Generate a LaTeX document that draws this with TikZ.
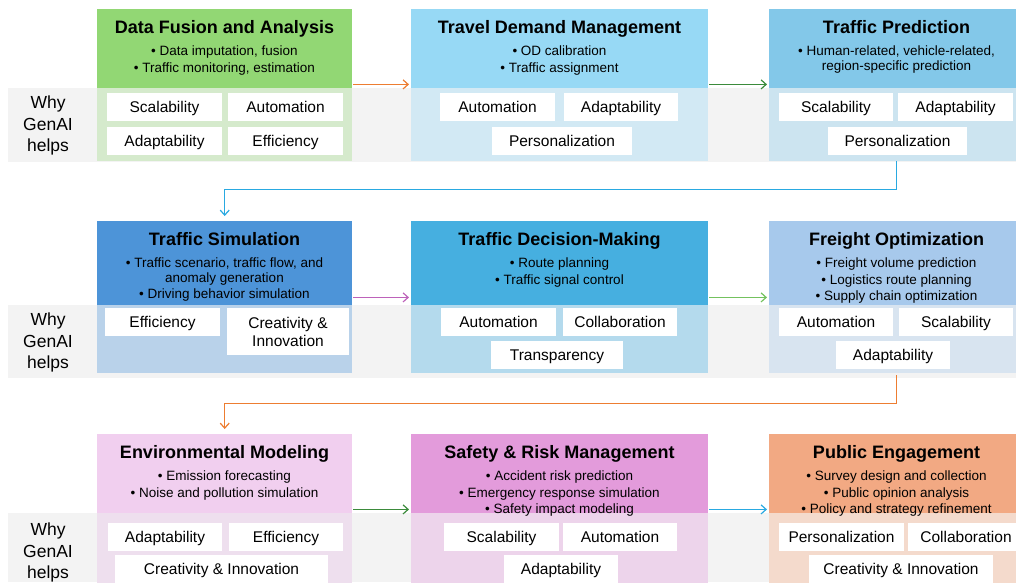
\documentclass[tikz,border=0pt]{standalone}
\usepackage{fontspec}
\setmainfont{Liberation Sans}
\usetikzlibrary{arrows.meta}

\definecolor{bandgray}{HTML}{F3F3F3}
\definecolor{hdfusion}{HTML}{92D774}
\definecolor{lofusion}{HTML}{D5EACC}
\definecolor{hddemand}{HTML}{97D9F5}
\definecolor{lodemand}{HTML}{D2E9F4}
\definecolor{hdpredict}{HTML}{83C8E9}
\definecolor{lopredict}{HTML}{CCE4F0}
\definecolor{hdsimul}{HTML}{4D94D8}
\definecolor{losimul}{HTML}{B9D2EA}
\definecolor{hddecision}{HTML}{46AFE0}
\definecolor{lodecision}{HTML}{B4DAED}
\definecolor{hdfreight}{HTML}{A7C9EC}
\definecolor{lofreight}{HTML}{D8E4F0}
\definecolor{hdenviron}{HTML}{F1CFEF}
\definecolor{loenviron}{HTML}{EEDFEE}
\definecolor{hdsafety}{HTML}{E39BDB}
\definecolor{losafety}{HTML}{EDD4EB}
\definecolor{hdpublic}{HTML}{F2A983}
\definecolor{lopublic}{HTML}{F4DACC}
\definecolor{arrorange}{HTML}{ED7D31}
\definecolor{arrgreen}{HTML}{3B8B3B}
\definecolor{arrlime}{HTML}{74C25E}
\definecolor{arrblue}{HTML}{29A9E1}
\definecolor{arrpink}{HTML}{BD62BA}

\begin{document}
\begin{tikzpicture}[x=1pt,y=-1pt,
  head/.style={anchor=north west,inner sep=0,minimum height=79},
  lower/.style={anchor=north west,inner sep=0},
  title/.style={anchor=base,font=\fontsize{18}{21}\selectfont\bfseries},
  items/.style={anchor=north,inner sep=0,align=center,font=\fontsize{13.5}{16.5}\selectfont},
  why/.style={anchor=north,inner sep=0,align=center,font=\fontsize{17.5}{21.5}\selectfont},
  card/.style={fill=white,inner sep=0,minimum height=28,align=center,font=\fontsize{15.5}{18}\selectfont},
  feat/.style={card,text height=12.5pt,text depth=1.5pt},
  link/.style={line width=1.2pt,-{Straight Barb[length=5pt,width=9pt]},shorten <=1pt,shorten >=2pt}]
\useasboundingbox (0,0) rectangle (1016,582);

\fill[bandgray] (8,88) rectangle (1016,162);
\fill[bandgray] (8,305) rectangle (1016,378);
\fill[bandgray] (8,513) rectangle (1016,582);

\node[why] (why1) at (48,96) {Why\\GenAI\\helps};
\node[why] (why2) at (48,313) {Why\\GenAI\\helps};
\node[why] (why3) at (48,523) {Why\\GenAI\\helps};

% row 1
\node[head,fill=hdfusion,minimum width=255] (fusion) at (97,9) {};
\node[lower,fill=lofusion,minimum width=255,minimum height=73] (fusionlo) at (97,88) {};
\node[head,fill=hddemand,minimum width=297] (demand) at (411,9) {};
\node[lower,fill=lodemand,minimum width=297,minimum height=73] (demandlo) at (411,88) {};
\node[head,fill=hdpredict,minimum width=255] (predict) at (769,9) {};
\node[lower,fill=lopredict,minimum width=255,minimum height=73] (predictlo) at (769,88) {};

\node[title] (fusiont) at (224.5,33.5) {Data Fusion and Analysis};
\node[items] (fusioni) at (224.5,46) {• Data imputation, fusion\\• Traffic monitoring, estimation};
\node[title] (demandt) at (559.5,33.5) {Travel Demand Management};
\node[items] (demandi) at (559.5,46) {• OD calibration\\• Traffic assignment};
\node[title] (predictt) at (896.5,33.5) {Traffic Prediction};
\node[items] (predicti) at (896.5,46) {• Human-related, vehicle-related,\\[-2pt]region-specific prediction};

\node[feat,minimum width=115] (f1a) at (164.5,107) {Scalability};
\node[feat,minimum width=115] (f1b) at (285.5,107) {Automation};
\node[feat,minimum width=115] (f1c) at (164.5,141) {Adaptability};
\node[feat,minimum width=115] (f1d) at (285.5,141) {Efficiency};
\node[feat,minimum width=115] (f2a) at (497.5,107) {Automation};
\node[feat,minimum width=114] (f2b) at (621,107) {Adaptability};
\node[feat,minimum width=140] (f2c) at (562,141) {Personalization};
\node[feat,minimum width=114] (f3a) at (836,107) {Scalability};
\node[feat,minimum width=115] (f3b) at (955.5,107) {Adaptability};
\node[feat,minimum width=139] (f3c) at (897.5,141) {Personalization};

% row 2
\node[head,fill=hdsimul,minimum width=255,minimum height=84] (simul) at (97,221) {};
\node[lower,fill=losimul,minimum width=255,minimum height=68] (simullo) at (97,305) {};
\node[head,fill=hddecision,minimum width=297,minimum height=84] (decision) at (411,221) {};
\node[lower,fill=lodecision,minimum width=297,minimum height=68] (decisionlo) at (411,305) {};
\node[head,fill=hdfreight,minimum width=255,minimum height=84] (freight) at (769,221) {};
\node[lower,fill=lofreight,minimum width=255,minimum height=68] (freightlo) at (769,305) {};

\node[title] (simult) at (224.5,245.5) {Traffic Simulation};
\node[items] (simuli) at (224.5,258) {• Traffic scenario, traffic flow, and\\[-2pt]anomaly generation\\• Driving behavior simulation};
\node[title] (decisiont) at (559.5,245.5) {Traffic Decision-Making};
\node[items] (decisioni) at (559.5,258) {• Route planning\\• Traffic signal control};
\node[title] (freightt) at (896.5,245.5) {Freight Optimization};
\node[items] (freighti) at (896.5,258) {• Freight volume prediction\\• Logistics route planning\\• Supply chain optimization};

\node[feat,minimum width=115] (f4a) at (162.5,322) {Efficiency};
\node[card,minimum width=122,minimum height=47] (f4b) at (288,331.5) {Creativity \&\\Innovation};
\node[feat,minimum width=115] (f5a) at (498.5,322) {Automation};
\node[feat,minimum width=114] (f5b) at (620,322) {Collaboration};
\node[feat,minimum width=132] (f5c) at (557,355) {Transparency};
\node[feat,minimum width=114] (f6a) at (836,322) {Automation};
\node[feat,minimum width=114] (f6b) at (956,322) {Scalability};
\node[feat,minimum width=114] (f6c) at (893,355) {Adaptability};

% row 3
\node[head,fill=hdenviron,minimum width=255] (environ) at (97,434) {};
\node[lower,fill=loenviron,minimum width=255,minimum height=77] (environlo) at (97,513) {};
\node[head,fill=hdsafety,minimum width=297] (safety) at (411,434) {};
\node[lower,fill=losafety,minimum width=297,minimum height=77] (safetylo) at (411,513) {};
\node[head,fill=hdpublic,minimum width=255] (public) at (769,434) {};
\node[lower,fill=lopublic,minimum width=255,minimum height=77] (publiclo) at (769,513) {};

\node[title] (environt) at (224.5,458.5) {Environmental Modeling};
\node[items] (environi) at (224.5,471) {• Emission forecasting\\• Noise and pollution simulation};
\node[title] (safetyt) at (559.5,458.5) {Safety \& Risk Management};
\node[items] (safetyi) at (559.5,471) {• Accident risk prediction\\• Emergency response simulation\\• Safety impact modeling};
\node[title] (publict) at (896.5,458.5) {Public Engagement};
\node[items] (publici) at (896.5,471) {• Survey design and collection\\• Public opinion analysis\\• Policy and strategy refinement};

\node[feat,minimum width=114] (f7a) at (165,537) {Adaptability};
\node[feat,minimum width=114] (f7b) at (286,537) {Efficiency};
\node[feat,minimum width=213] (f7c) at (221.5,569) {Creativity \& Innovation};
\node[feat,minimum width=115] (f8a) at (501.5,537) {Scalability};
\node[feat,minimum width=114] (f8b) at (620,537) {Automation};
\node[feat,minimum width=114] (f8c) at (561,569) {Adaptability};
\node[feat,minimum width=125] (f9a) at (841.5,537) {Personalization};
\node[feat,minimum width=116] (f9b) at (966,537) {Collaboration};
\node[feat,minimum width=184] (f9c) at (901,569) {Creativity \& Innovation};

% connectors
\draw[link,arrorange] ([yshift=4pt]fusion.south east) -- ([yshift=4pt]demand.south west);
\draw[link,arrgreen] ([yshift=4pt]demand.south east) -- ([yshift=4pt]predict.south west);
\draw[link,arrblue,shorten <=0pt,shorten >=5pt] (predictlo.south) -- ++(0,28) -| (simul.north);
\draw[link,arrpink] ([yshift=8pt]simul.south east) -- ([yshift=8pt]decision.south west);
\draw[link,arrlime] ([yshift=8pt]decision.south east) -- ([yshift=8pt]freight.south west);
\draw[link,arrorange,shorten <=2pt,shorten >=5pt] (freightlo.south) -- ++(0,30) -| (environ.north);
\draw[link,arrgreen] ([yshift=4pt]environ.south east) -- ([yshift=4pt]safety.south west);
\draw[link,arrblue] ([yshift=4pt]safety.south east) -- ([yshift=4pt]public.south west);
\end{tikzpicture}
\end{document}
